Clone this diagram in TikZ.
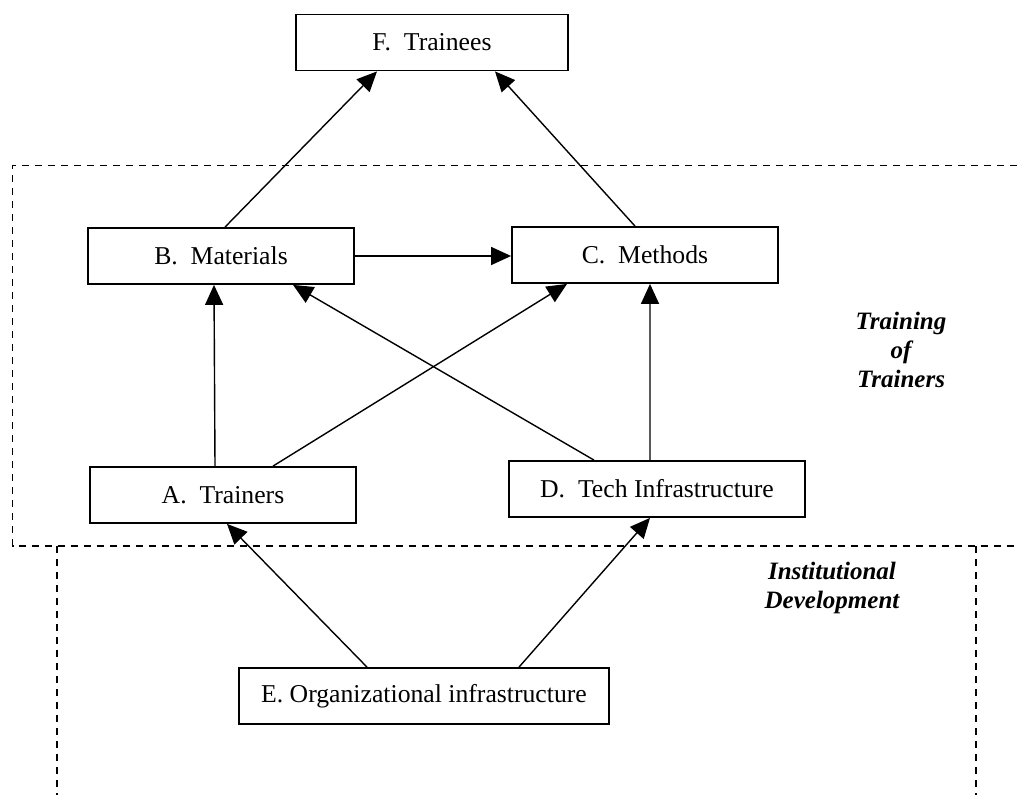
\documentclass[tikz,border=0pt]{standalone}
\usepackage{fontspec}
\setmainfont{Liberation Serif}
\usetikzlibrary{arrows.meta,calc}
\tikzset{
  box/.style={draw, line width=1.8bp, minimum height=56bp, inner sep=0pt,
    font=\fontsize{25.7bp}{30bp}\selectfont},
  conn/.style={line width=1.4bp, -{Triangle[length=20bp,width=18bp]}},
  region/.style={line width=1.7bp, dash pattern=on 7.3bp off 5.7bp},
  lbl/.style={align=center, font=\fontsize{25bp}{29bp}\selectfont\bfseries\itshape}
}
\begin{document}
\begin{tikzpicture}[x=1bp,y=-1bp]
\useasboundingbox (0,0) rectangle (1017,795);
% regions
\coordinate (r1) at (12.5,165.5);
\coordinate (r2) at (12.5,546);
\draw[region] (1017,165.5) -- (r1) -- (r2) -- (1017,546);
\draw[region] (57,546) -- (57,795);
\draw[region] (976,546) -- (976,795);
% boxes
\node[box, minimum width=272bp] (F) at (432,42.5) {F.\ \ Trainees};
\node[box, minimum width=266bp] (B) at (221,256) {B.\ \ Materials};
\node[box, minimum width=266bp] (C) at (645,255) {C.\ \ Methods};
\node[box, minimum width=266bp] (A) at (223,495) {A.\ \ Trainers};
\node[box, minimum width=296bp] (D) at (657,489) {D.\ \ Tech Infrastructure};
\node[box, minimum width=370bp] (E) at (424,696) {E. Organizational infrastructure};
% labels
\node[lbl] (tot) at (901,350) {Training\\of\\Trainers};
\node[lbl] (inst) at (832,588) {Institutional\\Development};
% connectors
\draw[conn] ([xshift=4bp]B.north) -- ([xshift=-55bp]F.south);
\draw[conn] ([xshift=-10bp]C.north) -- ([xshift=63bp]F.south);
\draw[conn] (B.east) -- (B.east -| C.west);
\draw[conn] ([xshift=-8bp]A.north) -- ([xshift=-7bp]B.south);
\draw[conn] ([xshift=50bp]A.north) -- ([xshift=-78bp]C.south);
\draw[conn] ([xshift=-63bp]D.north) -- ([xshift=72bp]B.south);
\draw[conn] ([xshift=-7bp]D.north) -- ([xshift=5bp]C.south);
\draw[conn] ([xshift=-57bp]E.north) -- ([xshift=4bp]A.south);
\draw[conn] ([xshift=95bp]E.north) -- ([xshift=-7bp]D.south);
\end{tikzpicture}
\end{document}
